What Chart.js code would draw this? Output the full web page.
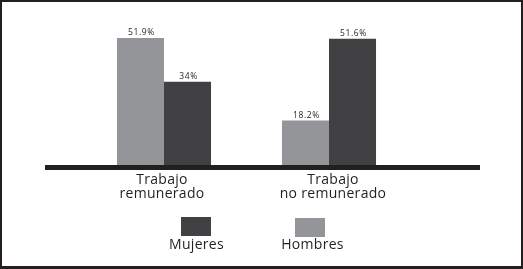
<!DOCTYPE html>
<html>
<head>
<meta charset="utf-8">
<script src="https://cdn.jsdelivr.net/npm/chart.js@4/dist/chart.umd.min.js"></script>
<style>
  html, body { margin: 0; padding: 0; background: #fff; }
  #frame {
    width: 523px; height: 269px; box-sizing: border-box;
    border: 2px solid #231f20; border-bottom-width: 3px;
    position: relative; background: #fff;
  }
  #chart { display: block; }
</style>
</head>
<body>
<div id="frame"><canvas id="chart" width="519" height="264"></canvas></div>
<script>
var categories = [["Trabajo", "remunerado"], ["Trabajo", "no remunerado"]];
var hombres = [51.9, 18.2];
var mujeres = [34, 51.6];
var valueLabels = {
  hombres: ["51.9%", "18.2%"],
  mujeres: ["34%", "51.6%"]
};

var GRAY = "#939598";
var DARK = "#414042";
var INK = "#231f20";

// axis bar, category labels, value labels and the boxed legend underneath
var decorations = {
  id: "decorations",
  afterDatasetsDraw: function (chart) {
    var ctx = chart.ctx;
    var area = chart.chartArea;
    var x = chart.scales.x;
    var y = chart.scales.y;
    var base = y.getPixelForValue(0);

    ctx.save();
    ctx.fillStyle = INK;
    ctx.fillRect(area.left - 36.5, base, area.right - area.left + 105, 5);

    // value labels
    ctx.font = "8.5px 'Open Sans'";
    ctx.letterSpacing = "0.6px";
    ctx.textAlign = "center";
    ctx.textBaseline = "alphabetic";
    var keys = ["hombres", "mujeres"];
    chart.data.datasets.forEach(function (ds, di) {
      var meta = chart.getDatasetMeta(di);
      meta.data.forEach(function (bar, i) {
        ctx.fillText(valueLabels[keys[di]][i], bar.x + 1, bar.y - 3);
      });
    });

    // category labels
    ctx.font = "14px 'Open Sans'";
    ctx.letterSpacing = "0.3px";
    categories.forEach(function (lines, i) {
      var cx = x.getPixelForValue(i) + (i === 1 ? 4 : -2);
      lines.forEach(function (line, li) {
        ctx.fillText(line, cx, base + 19 + li * 14);
      });
    });

    // legend (Mujeres first)
    var items = [
      { text: "Mujeres", color: DARK, bx: 179, by: 215, tx: 194.5 },
      { text: "Hombres", color: GRAY, bx: 293, by: 216, tx: 310.5 }
    ];
    items.forEach(function (it) {
      ctx.fillStyle = it.color;
      ctx.fillRect(it.bx, it.by, 30, 19);
      ctx.fillStyle = INK;
      ctx.fillText(it.text, it.tx, 247);
    });
    ctx.restore();
  }
};

new Chart(document.getElementById("chart"), {
  type: "bar",
  data: {
    labels: categories,
    datasets: [
      { label: "Hombres", data: hombres, backgroundColor: GRAY, borderWidth: 0 },
      { label: "Mujeres", data: mujeres, backgroundColor: DARK, borderWidth: 0 }
    ]
  },
  options: {
    responsive: false,
    animation: false,
    events: [],
    layout: { padding: { left: 79.5, right: 109.5, top: 16.3, bottom: 101 } },
    categoryPercentage: 0.57,
    barPercentage: 1.0,
    plugins: { legend: { display: false }, tooltip: { enabled: false } },
    scales: {
      x: { display: false },
      y: { display: false, min: 0, max: 60 }
    }
  },
  plugins: [decorations]
});
</script>
</body>
</html>
